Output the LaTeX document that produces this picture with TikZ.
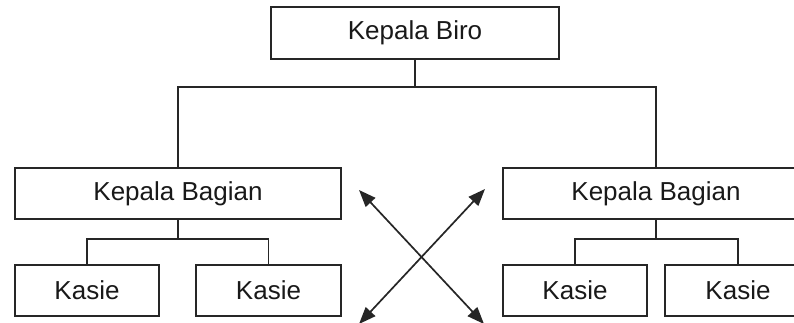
\documentclass[tikz,border=0pt]{standalone}
\usepackage{fontspec}
\setmainfont{Liberation Sans}
\usetikzlibrary{arrows.meta}
\begin{document}
\begin{tikzpicture}[x=1pt,y=-1pt,
  box/.style={draw=black!85, line width=1.7pt, fill=white, inner sep=0pt,
    minimum height=51pt, font=\fontsize{26}{30}\selectfont, text=black!90},
  conn/.style={draw=black!85, line width=1.7pt},
  dbl/.style={draw=black!85, line width=1.7pt, {Triangle[length=17pt,width=13pt]}-{Triangle[length=17pt,width=13pt]}}]
\useasboundingbox (0,0) rectangle (794,323);
\clip (0,0) rectangle (794,323);
\node[box, minimum width=288pt, minimum height=52pt] (top) at (415,33) {Kepala Biro};
\node[box, minimum width=326pt] (lkb) at (178,193.5) {Kepala Bagian};
\node[box, minimum width=306pt] (rkb) at (656,193.5) {Kepala Bagian};
\node[box, minimum width=144pt] (lk1) at (87,290.5) {Kasie};
\node[box, minimum width=145pt] (lk2) at (268.5,290.5) {Kasie};
\node[box, minimum width=144pt] (rk1) at (575,290.5) {Kasie};
\node[box, minimum width=146pt] (rk2) at (738,290.5) {Kasie};
\coordinate (bar) at (415,87);
\draw[conn] (top.south) -- (bar);
\draw[conn] (lkb.north) |- (bar) -| (rkb.north);
\coordinate (lj) at (178,239);
\coordinate (rj) at (656,239);
\draw[conn] (lkb.south) -- (lj);
\draw[conn] (lk1.north) |- (lj) -| (lk2.north);
\draw[conn] (rkb.south) -- (rj);
\draw[conn] (rk1.north) |- (rj) -| (rk2.north);
\coordinate (a1) at (359,190);
\coordinate (a2) at (484,324);
\coordinate (b1) at (485,189);
\coordinate (b2) at (359,324);
\draw[dbl] (a1) -- (a2);
\draw[dbl] (b1) -- (b2);
\end{tikzpicture}
\end{document}
